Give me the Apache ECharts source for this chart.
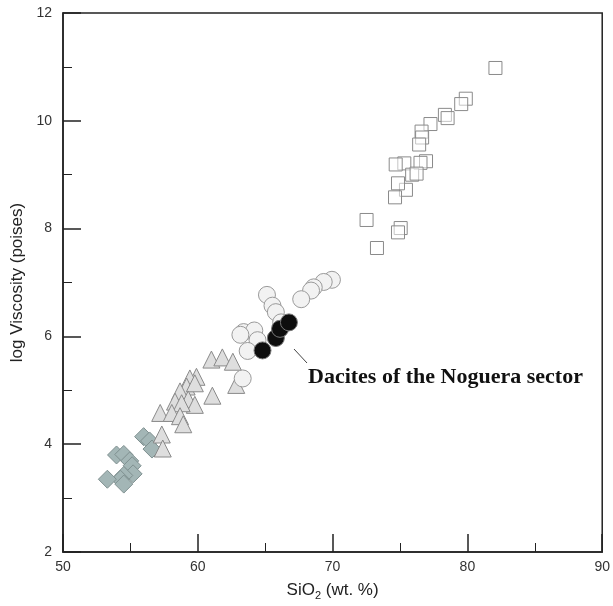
<!DOCTYPE html>
<html>
<head>
<meta charset="utf-8">
<script src="https://cdn.jsdelivr.net/npm/echarts@6/dist/echarts.min.js"></script>
<style>
  html, body { margin: 0; padding: 0; background: #fff; }
  #main { width: 613px; height: 606px; }
</style>
</head>
<body>
<div id="main"></div>
<script>
// SiO2 (wt. %) vs log viscosity
var diamonds = [
  [55.98, 4.14], [56.42, 4.06], [56.6, 3.91], [53.97, 3.80], [54.51, 3.81],
  [54.95, 3.69], [55.13, 3.60], [55.2, 3.45], [54.51, 3.42], [54.26, 3.35],
  [54.51, 3.26], [53.29, 3.35]
];
var triangles = [
  [61.01, 5.57], [61.82, 5.61], [62.6, 5.53], [59.9, 5.25], [59.41, 5.22],
  [59.17, 5.07], [59.78, 5.13], [58.68, 4.98], [61.08, 4.90], [62.85, 5.10],
  [58.31, 4.79], [59.29, 4.83], [59.78, 4.73], [58.8, 4.76], [57.21, 4.58],
  [58.07, 4.58], [58.68, 4.52], [58.92, 4.37], [57.33, 4.18], [57.4, 3.92]
];
var circles = [
  [69.95, 7.05], [69.34, 7.01], [68.6, 6.91], [68.4, 6.85], [67.67, 6.69],
  [65.13, 6.77], [65.54, 6.57], [65.79, 6.45], [63.4, 6.08], [64.19, 6.11],
  [63.16, 6.03], [64.43, 5.93], [63.7, 5.73], [63.33, 5.22], [66.18, 6.26]
];
var dacites = [
  [64.8, 5.74], [65.79, 5.97], [66.1, 6.14], [66.76, 6.26]
];
var squares = [
  [82.08, 10.98], [79.88, 10.41], [79.54, 10.31], [78.33, 10.11], [78.53, 10.05],
  [77.26, 9.94], [76.6, 9.80], [76.64, 9.69], [76.42, 9.56], [75.32, 9.21],
  [74.68, 9.19], [76.93, 9.25], [76.52, 9.22], [75.9, 9.00], [76.23, 9.02],
  [75.44, 8.72], [74.85, 8.84], [74.63, 8.58], [72.52, 8.16], [75.05, 8.01],
  [74.85, 7.93], [73.29, 7.64]
];
var xTicks = [50, 60, 70, 80, 90];
var yTicks = [2, 4, 6, 8, 10, 12];

var myChart = echarts.init(document.getElementById('main'));

var axisCommon = {
  axisLine: { show: true, lineStyle: { color: '#222', width: 1.5 } },
  axisTick: { show: true, inside: true, length: 18, lineStyle: { color: '#222', width: 1.5 } },
  minorTick: { show: true, splitNumber: 2, length: 9, lineStyle: { color: '#222', width: 1 } },
  splitLine: { show: false }
};

var option = {
  animation: false,
  backgroundColor: '#fff',
  grid: {
    left: 63, right: 7, top: 13, bottom: 49,
    show: true, borderColor: '#222', borderWidth: 1.5
  },
  xAxis: Object.assign({
    type: 'value',
    min: xTicks[0], max: xTicks[xTicks.length - 1], interval: 10,
    name: '{a|SiO}{s|2}{a| (wt. %)}',
    nameLocation: 'middle', nameGap: 28,
    nameTextStyle: {
      rich: {
        a: { fontFamily: 'Arial', fontSize: 17, color: '#222' },
        s: { fontFamily: 'Arial', fontSize: 11, color: '#222', padding: [10, 0, 0, 0] }
      }
    },
    axisLabel: { color: '#333', fontFamily: 'Arial', fontSize: 14, margin: 8 }
  }, axisCommon),
  yAxis: Object.assign({
    type: 'value',
    min: yTicks[0], max: yTicks[yTicks.length - 1], interval: 2,
    name: 'log Viscosity (poises)',
    nameLocation: 'middle', nameGap: 37,
    nameTextStyle: { fontFamily: 'Arial', fontSize: 17, color: '#222' },
    axisLabel: { color: '#333', fontFamily: 'Arial', fontSize: 14, margin: 11 }
  }, axisCommon),
  series: [
    {
      name: 'diamonds', type: 'scatter', data: diamonds,
      symbol: 'diamond', symbolSize: 18,
      itemStyle: { color: '#a3b6b6', borderColor: '#7f9090', borderWidth: 1, opacity: 1 }
    },
    {
      name: 'triangles', type: 'scatter', data: triangles,
      symbol: 'triangle', symbolSize: 17,
      itemStyle: { color: '#dedede', borderColor: '#8a8a8a', borderWidth: 1, opacity: 1 }
    },
    {
      name: 'circles', type: 'scatter', data: circles,
      symbol: 'circle', symbolSize: 17,
      itemStyle: { color: '#f2f2f2', borderColor: '#9a9a9a', borderWidth: 1, opacity: 1 }
    },
    {
      name: 'dacites', type: 'scatter', data: dacites,
      symbol: 'circle', symbolSize: 17,
      itemStyle: { color: '#0d0d0d', borderColor: '#777', borderWidth: 1, opacity: 1 }
    },
    {
      name: 'squares', type: 'scatter', data: squares,
      symbol: 'rect', symbolSize: 13,
      itemStyle: { color: 'rgba(255,255,255,0.5)', borderColor: '#8a8a8a', borderWidth: 1, opacity: 1 }
    }
  ],
  graphic: [
    {
      type: 'line',
      shape: { x1: 294, y1: 349, x2: 307, y2: 363 },
      style: { stroke: '#444', lineWidth: 1 }
    },
    {
      type: 'text', left: 308, top: 366,
      style: {
        text: 'Dacites of the Noguera sector',
        font: 'bold 22px "Liberation Serif", "Times New Roman", serif',
        fill: '#111'
      }
    }
  ]
};

myChart.setOption(option);
</script>
</body>
</html>
